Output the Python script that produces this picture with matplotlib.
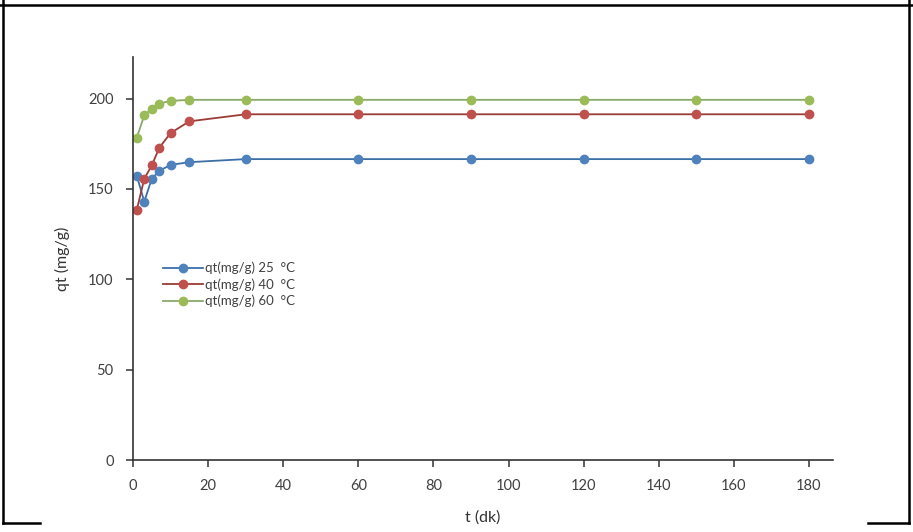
import matplotlib.pyplot as plt
from matplotlib.lines import Line2D

# time (dk) and adsorbed amount qt (mg/g) at three temperatures
t = [1, 3, 5, 7, 10, 15, 30, 60, 90, 120, 150, 180]
qt_25 = [157.4, 143.0, 155.6, 160.0, 163.3, 164.8, 166.5, 166.5, 166.5, 166.5, 166.5, 166.5]
qt_40 = [138.3, 155.6, 163.0, 172.8, 180.9, 187.4, 191.3, 191.3, 191.3, 191.3, 191.3, 191.3]
qt_60 = [178.3, 190.7, 194.4, 197.2, 198.7, 199.3, 199.3, 199.3, 199.3, 199.3, 199.3, 199.3]
labels = ["qt(mg/g) 25  °C", "qt(mg/g) 40  °C", "qt(mg/g) 60  °C"]
x_ticks = [0, 20, 40, 60, 80, 100, 120, 140, 160, 180]
y_ticks = [0, 50, 100, 150, 200]

plt.rcParams['font.family'] = ['Lato', 'DejaVu Sans']

W, H = 913, 532
fig = plt.figure(figsize=(W / 100, H / 100), dpi=100)
ax = fig.add_axes([133 / W, 1 - 460 / H, 700 / W, 403 / H])

series = [
    (qt_25, '#4F81BD', '#3C6EA8'),
    (qt_40, '#C0504D', '#9A3B36'),
    (qt_60, '#9BBB59', '#8AA86A'),
]
for (vals, mc, lc), lab in zip(series, labels):
    ax.plot(t, vals, color=lc, lw=1.3, marker='o', markersize=6,
            markerfacecolor=mc, markeredgecolor=mc, label=lab)

ax.set_xlim(0, 186.4)
ax.set_ylim(0, 223)
ax.set_xticks(x_ticks)
ax.set_yticks(y_ticks)
for side in ['top', 'right']:
    ax.spines[side].set_visible(False)
for side in ['left', 'bottom']:
    ax.spines[side].set_color('#333333')
    ax.spines[side].set_linewidth(1.2)
ax.tick_params(direction='out', length=5, width=1.1, color='#333333',
               labelsize=10.5, labelcolor='#404040', pad=9)

ax.set_xlabel('t (dk)', fontsize=11.5, color='#333333', labelpad=12)
ax.set_ylabel('qt (mg/g)', fontsize=11.5, color='#333333', labelpad=13)

leg = ax.legend(loc='upper left', bbox_to_anchor=(0.03, 0.515), frameon=False,
                fontsize=9.5, handlelength=3.0, handletextpad=0.2,
                labelspacing=0.3, borderpad=0.2)
for txt in leg.get_texts():
    txt.set_color('#404040')

# table cell border around the chart
def fline(x0, y0, x1, y1):
    fig.add_artist(Line2D([x0 / W, x1 / W], [1 - y0 / H, 1 - y1 / H],
                          color='black', lw=1.8, transform=fig.transFigure))

fline(0, 5, W, 5)
fline(3, 0, 3, 523)
fline(3, 523, 40, 523)
fline(909, 0, 909, 523)
fline(868, 523, 909, 523)

fig.savefig('out.png', dpi=100)
